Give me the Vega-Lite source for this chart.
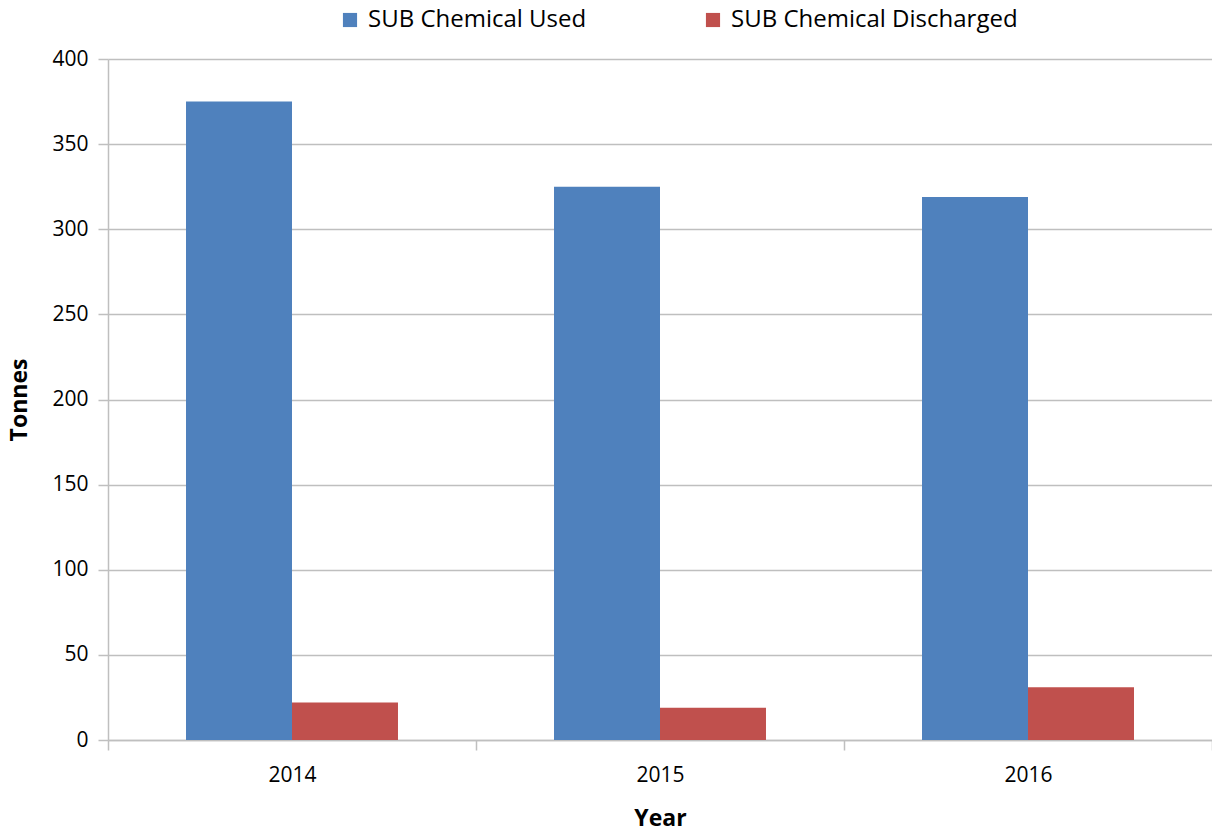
{
  "$schema": "https://vega.github.io/schema/vega-lite/v6.json",
  "autosize": {"type": "none"},
  "padding": {"left": 108, "top": 59, "right": 0, "bottom": 98},
  "width": 1104,
  "height": 681,
  "background": "white",
  "data": {"values": [
    {"Year": "2014", "Series": "SUB Chemical Used", "Tonnes": 375},
    {"Year": "2014", "Series": "SUB Chemical Discharged", "Tonnes": 22},
    {"Year": "2015", "Series": "SUB Chemical Used", "Tonnes": 325},
    {"Year": "2015", "Series": "SUB Chemical Discharged", "Tonnes": 19},
    {"Year": "2016", "Series": "SUB Chemical Used", "Tonnes": 319},
    {"Year": "2016", "Series": "SUB Chemical Discharged", "Tonnes": 31}
  ]},
  "mark": {"type": "bar"},
  "encoding": {
    "x": {
      "field": "Year", "type": "nominal",
      "scale": {"paddingInner": 0, "paddingOuter": 0},
      "axis": {"title": "Year", "labelAngle": 0, "tickBand": "extent", "grid": false,
               "labelFontSize": 21, "labelPadding": 14, "titleFontSize": 23, "titleFontWeight": "bold",
               "titlePadding": 22, "tickSize": 10}
    },
    "xOffset": {"field": "Series", "type": "nominal",
      "sort": ["SUB Chemical Used", "SUB Chemical Discharged"],
      "scale": {"paddingOuter": 0.736, "paddingInner": 0}},
    "y": {
      "field": "Tonnes", "type": "quantitative",
      "scale": {"domain": [0, 400], "nice": false},
      "axis": {"title": "Tonnes", "values": [0, 50, 100, 150, 200, 250, 300, 350, 400],
               "labelFontSize": 21, "labelPadding": 10, "titleFontSize": 23, "titleFontWeight": "bold",
               "titlePadding": 20, "tickSize": 10}
    },
    "color": {
      "field": "Series", "type": "nominal",
      "sort": ["SUB Chemical Used", "SUB Chemical Discharged"],
      "scale": {"domain": ["SUB Chemical Used", "SUB Chemical Discharged"], "range": ["#4F81BD", "#C0504D"]},
      "legend": {"title": null, "orient": "none", "direction": "horizontal", "legendX": 230, "legendY": -51,
                 "symbolType": "square", "symbolSize": 200, "labelFontSize": 24, "columnPadding": 114,
                 "labelLimit": 500, "symbolStrokeWidth": 0, "labelOffset": 6}
    }
  },
  "config": {
    "font": "Open Sans",
    "view": {"stroke": null},
    "axis": {"domainColor": "#BFBFBF", "tickColor": "#BFBFBF", "gridColor": "#BFBFBF", "domainWidth": 1.5,
             "tickWidth": 1.5, "gridWidth": 1.5, "labelColor": "#000000", "titleColor": "#000000"},
    "legend": {"labelColor": "#000000"}
  }
}
